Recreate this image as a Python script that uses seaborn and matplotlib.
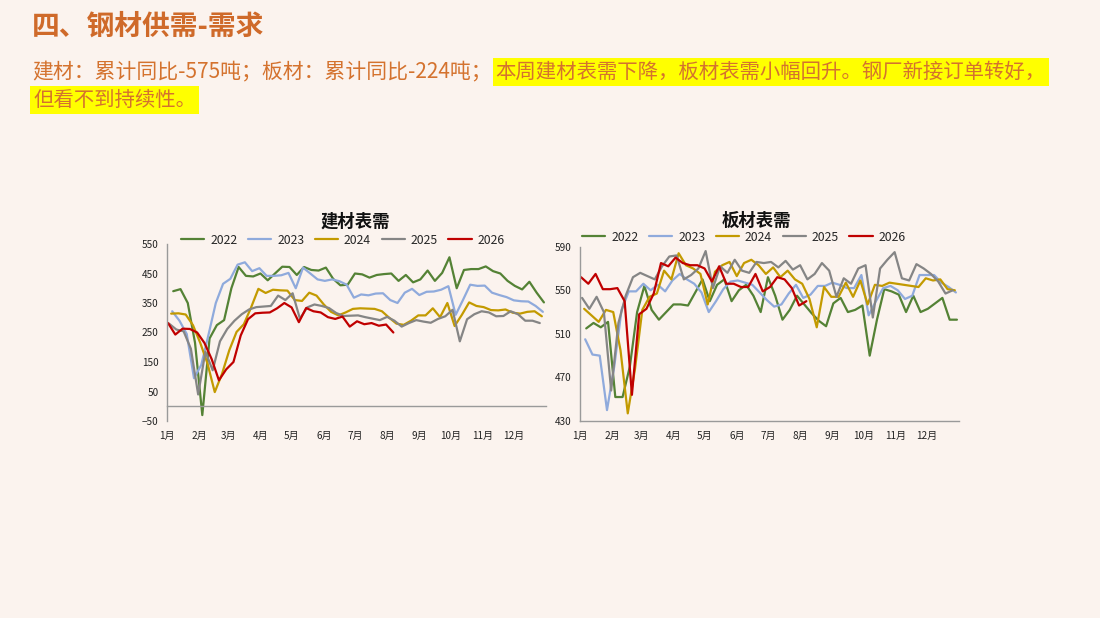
import numpy as np
import pandas as pd
import matplotlib
matplotlib.use("Agg")
import matplotlib.pyplot as plt
import seaborn as sns
from matplotlib.lines import Line2D

# ---------------- data ----------------
years = ["2022", "2023", "2024", "2025", "2026"]
start_dates = ["2022-01-07", "2023-01-06", "2024-01-05", "2025-01-03", "2026-01-02"]
line_colors = ["#548235", "#8FAADC", "#C39A00", "#858585", "#C00000"]

# 建材表需 (weekly)
jc_2022 = [390, 397, 350, 215, -30, 230, 275, 292, 400, 472, 442, 440, 450, 427, 450, 473, 472, 445, 472, 462,
           460, 470, 432, 410, 412, 450, 447, 436, 445, 448, 450, 425, 445, 420, 430, 460, 425, 452, 505, 400,
           462, 465, 465, 474, 458, 450, 425, 408, 396, 422, 385, 352]
jc_2023 = [322, 290, 245, 95, 140, 243, 350, 415, 432, 480, 488, 458, 468, 442, 442, 444, 452, 400, 470, 450,
           430, 425, 430, 424, 412, 368, 379, 376, 382, 383, 360, 350, 385, 398, 377, 388, 389, 395, 407, 310,
           360, 412, 408, 409, 385, 377, 370, 359, 356, 355, 340, 320]
jc_2024 = [314, 315, 311, 275, 215, 145, 48, 110, 190, 252, 278, 335, 398, 384, 395, 393, 392, 360, 357, 385,
           375, 345, 320, 308, 318, 330, 332, 331, 330, 322, 300, 280, 276, 290, 308, 308, 332, 302, 350, 272,
           310, 352, 340, 336, 326, 325, 328, 317, 314, 320, 322, 305]
jc_2025 = [280, 260, 254, 195, 40, 185, 122, 220, 262, 290, 312, 328, 336, 338, 340, 375, 360, 383, 297, 335,
           345, 340, 333, 316, 306, 307, 308, 302, 297, 292, 303, 290, 270, 282, 292, 287, 283, 296, 305, 327,
           220, 295, 312, 322, 318, 305, 306, 322, 312, 290, 290, 282]
jc_2026 = [282, 243, 263, 262, 250, 215, 160, 88, 125, 150, 240, 295, 315, 317, 318, 332, 350, 335, 285, 333,
           322, 318, 302, 296, 304, 270, 288, 278, 282, 273, 277, 250]

# 板材表需 (weekly)
bc_2022 = [515, 520, 516, 521, 452, 452, 480, 530, 554, 532, 523, 530, 537, 537, 536, 548, 560, 540, 555, 560,
           540, 550, 555, 545, 530, 562, 545, 523, 532, 545, 537, 529, 522, 517, 538, 543, 530, 532, 536, 490,
           523, 551, 549, 546, 530, 545, 530, 533, 538, 543, 523, 523]
bc_2023 = [505, 491, 490, 440, 480, 532, 549, 549, 556, 550, 555, 549, 559, 565, 560, 556, 548, 530, 540, 551,
           558, 559, 557, 555, 548, 541, 535, 537, 547, 555, 543, 546, 554, 554, 557, 555, 552, 552, 564, 527,
           540, 552, 554, 550, 542, 545, 564, 564, 564, 557, 553, 548]
bc_2024 = [533, 527, 521, 532, 530, 495, 437, 478, 532, 544, 547, 568, 560, 584, 573, 570, 565, 537, 567, 573,
           576, 563, 575, 578, 573, 565, 571, 562, 568, 560, 556, 542, 516, 553, 544, 544, 557, 544, 559, 537,
           555, 554, 557, 556, 555, 554, 553, 561, 559, 560, 551, 550]
bc_2025 = [543, 533, 544, 530, 458, 520, 545, 562, 566, 563, 560, 572, 581, 582, 560, 564, 570, 586, 552, 572,
           566, 578, 568, 566, 576, 575, 576, 571, 577, 569, 573, 560, 565, 575, 568, 544, 561, 556, 570, 573,
           525, 570, 578, 585, 561, 559, 574, 570, 565, 558, 547, 550]
bc_2026 = [562, 556, 565, 551, 551, 552, 540, 454, 528, 533, 547, 575, 572, 580, 575, 573, 573, 570, 558, 572,
           556, 556, 553, 553, 565, 549, 553, 562, 560, 552, 536, 540]

jc_series = [jc_2022, jc_2023, jc_2024, jc_2025, jc_2026]
bc_series = [bc_2022, bc_2023, bc_2024, bc_2025, bc_2026]

month_labels = [f"{m}月" for m in range(1, 13)]
jc_yticks = [-50, 50, 150, 250, 350, 450, 550]
bc_yticks = [430, 470, 510, 550, 590]

title_text = "四、钢材供需-需求"
sub_plain = "建材：累计同比-575吨；板材：累计同比-224吨；"
sub_hl1 = "本周建材表需下降，板材表需小幅回升。钢厂新接订单转好，"
sub_hl2 = "但看不到持续性。"
chart_titles = ["建材表需", "板材表需"]


def build_df(series):
    rows = []
    for y, sd, vals in zip(years, start_dates, series):
        dates = pd.date_range(sd, periods=len(vals), freq="7D")
        days = (dates - pd.Timestamp(f"{y}-01-01")).days.astype(float)
        rows.append(pd.DataFrame({"day": days, "value": vals, "year": y}))
    return pd.concat(rows, ignore_index=True)


df_jc = build_df(jc_series)
df_bc = build_df(bc_series)

# month tick positions from calendar
month_days = list((pd.date_range("2023-01-01", periods=12, freq="MS").dayofyear - 1).astype(float)) + [365.0]

# ---------------- style ----------------
bg = "#FBF3EE"
sns.set_theme(style="white")
plt.rcParams["font.family"] = ["Noto Sans CJK SC", "DejaVu Sans"]
plt.rcParams["axes.unicode_minus"] = False

W, H = 1100, 618
fig = plt.figure(figsize=(W / 100, H / 100), dpi=100, facecolor=bg)

palette = dict(zip(years, line_colors))
spine_col = "#9A9A9A"


def px_rect(x0, y0, x1, y1):
    return [x0 / W, 1 - y1 / H, (x1 - x0) / W, (y1 - y0) / H]


def fmt_tick(v):
    return ("\u2212" + str(-v)) if v < 0 else str(v)


def setup_axes(ax, df, yticks, ylim, zero_axis):
    ax.set_facecolor(bg)
    sns.lineplot(data=df, x="day", y="value", hue="year", palette=palette, ax=ax,
                 legend=False, linewidth=1.6, estimator=None)
    ax.set_xlim(0, 365)
    ax.set_ylim(*ylim)
    ax.set_yticks(yticks)
    ax.set_yticklabels([fmt_tick(v) for v in yticks])
    ax.set_xticks(month_days)
    ax.set_xticklabels(month_labels + [""])
    ax.set_xlabel("")
    ax.set_ylabel("")
    for s in ["top", "right"]:
        ax.spines[s].set_visible(False)
    for s in ["left", "bottom"]:
        ax.spines[s].set_color(spine_col)
        ax.spines[s].set_linewidth(1.0)
    if zero_axis:
        ax.spines["bottom"].set_position(("data", 0))
        ax.tick_params(axis="x", pad=15)
    else:
        ax.tick_params(axis="x", pad=4)
    ax.tick_params(axis="both", which="major", labelsize=7.2, colors="#222222",
                   length=3, width=1.0, direction="out")
    ax.tick_params(axis="x", color=spine_col)
    ax.tick_params(axis="y", color=spine_col, pad=3)
    ax.grid(False)


ax1 = fig.add_axes(px_rect(167, 244, 546, 421))
setup_axes(ax1, df_jc, jc_yticks, (-50, 550), True)
ax2 = fig.add_axes(px_rect(580, 246.7, 959, 421))
setup_axes(ax2, df_bc, bc_yticks, (430, 590), False)

# chart titles & legends
handles = [Line2D([0], [0], color=c, lw=1.6) for c in line_colors]
for cx, ty, ly, t in [(355, 222, 240, chart_titles[0]), (756, 221, 237, chart_titles[1])]:
    fig.text(cx / W, 1 - ty / H, t, ha="center", va="center", fontsize=12.5,
             fontweight="bold", color="#111111")
    fig.legend(handles, years, loc="center", bbox_to_anchor=(cx / W - 0.011, 1 - ly / H),
               bbox_transform=fig.transFigure, ncol=5, frameon=False, fontsize=8.8,
               handlelength=1.9, handletextpad=0.5, columnspacing=0.85, borderaxespad=0)

# header texts
title_col = "#CF6A2A"
sub_col = "#D4722E"
fs_sub = 15.0
fs_hl = 14.7
fig.text(32 / W, 1 - 27 / H, title_text, ha="left", va="center", fontsize=20,
         fontweight="bold", color=title_col)
t_plain = fig.text(32 / W, 1 - 72 / H, sub_plain, ha="left", va="center", fontsize=fs_sub, color=sub_col)
fig.canvas.draw()
renderer = fig.canvas.get_renderer()
ext = t_plain.get_window_extent(renderer)
x_next = ext.x1 / fig.bbox.width
fig.text(x_next + 4 / W, 1 - 72 / H, sub_hl1, ha="left", va="center", fontsize=fs_hl, color=sub_col,
         bbox=dict(facecolor="#FFFF00", edgecolor="none", pad=2.2))
fig.text(33 / W, 1 - 100 / H, sub_hl2, ha="left", va="center", fontsize=fs_hl, color=sub_col,
         bbox=dict(facecolor="#FFFF00", edgecolor="none", pad=2.2))

fig.savefig("out.png", dpi=100, facecolor=bg)
